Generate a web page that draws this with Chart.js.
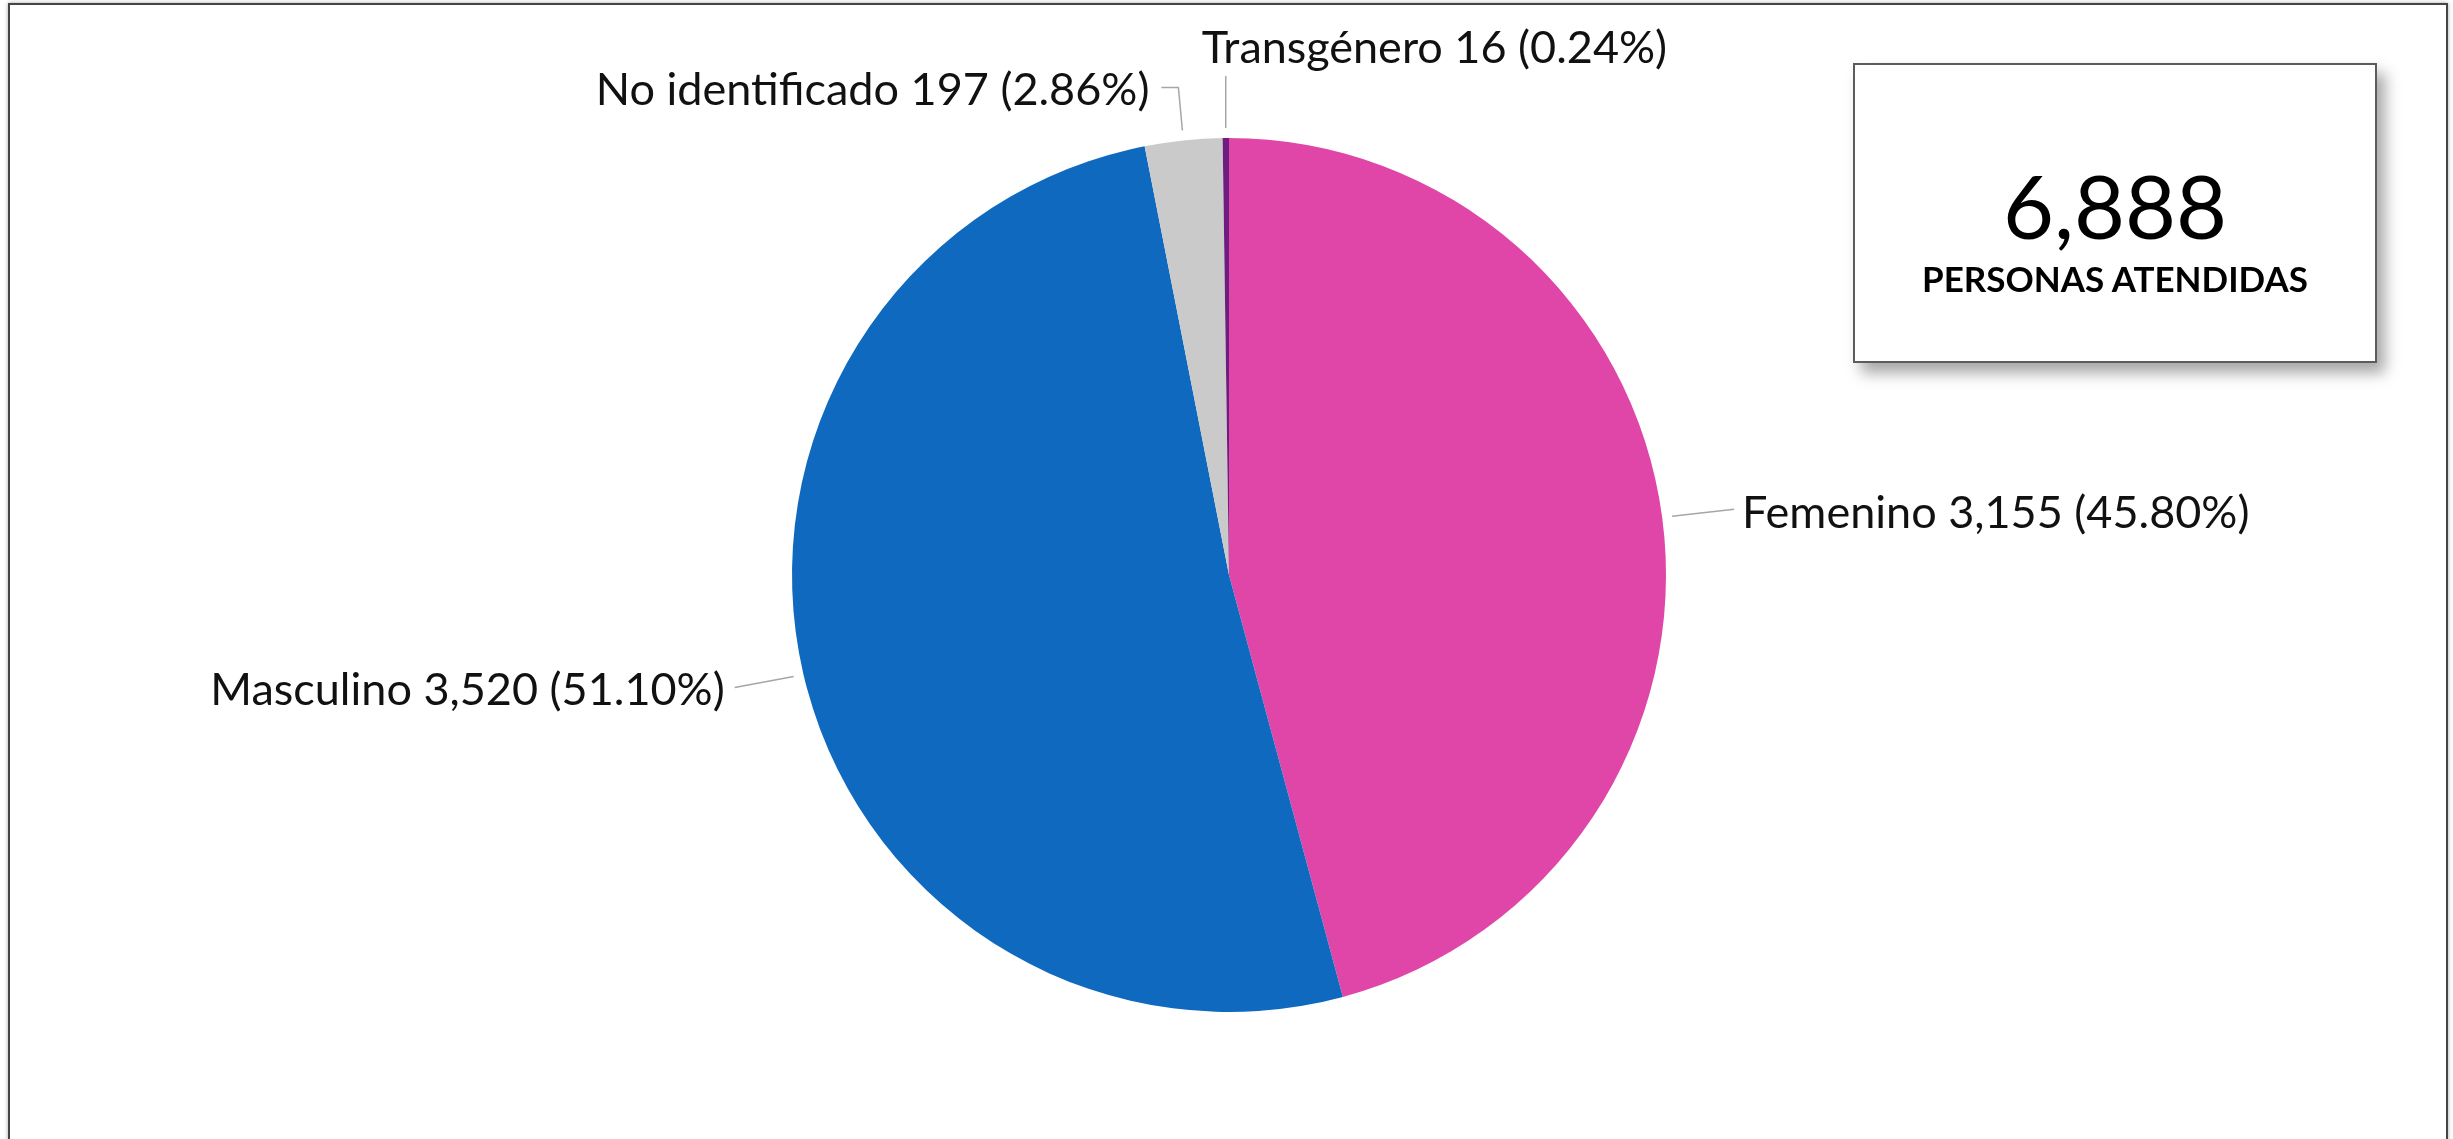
<!DOCTYPE html>
<html>
<head>
<meta charset="utf-8">
<script src="https://cdn.jsdelivr.net/npm/chart.js@4.4.1/dist/chart.umd.min.js"></script>
<style>
    html, body { margin: 0; padding: 0; background: #fff; overflow: hidden; }
    #wrap { position: relative; width: 2453px; height: 1139px; }
    #frame {
        position: absolute; left: 8px; top: 3px; width: 2436px; height: 1200px;
        border: 2px solid #454545; box-shadow: 0 0 4px rgba(0,0,0,0.35);
    }
    #chart { position: absolute; left: 0; top: 0; }
    #total {
        position: absolute; left: 1853px; top: 63px; width: 520px; height: 296px;
        border: 2px solid #5c5c5c; background: #fff;
        box-shadow: 8px 10px 14px rgba(0,0,0,0.35);
        font-family: Lato, sans-serif; color: #000;
    }
    #total .num { position: absolute; left: 0; right: 0; top: 96px; text-align: center; font-size: 88px; line-height: 1; }
    #total .cap { position: absolute; left: 0; right: 0; top: 196px; text-align: center; font-size: 35px; font-weight: bold; line-height: 1; }
</style>
</head>
<body>
<div id="wrap">
    <div id="frame"></div>
    <canvas id="chart" width="2453" height="1139"></canvas>
    <div id="total">
        <div class="num">6,888</div>
        <div class="cap">PERSONAS ATENDIDAS</div>
    </div>
</div>
<script>
const categories = ['Femenino', 'Masculino', 'No identificado', 'Transgénero'];
const counts = [3155, 3520, 197, 16];
const percents = ['45.80', '51.10', '2.86', '0.24'];
const sliceColors = ['#E046A8', '#0F6ABF', '#CACACA', '#6E1C80'];

// leader line bends, relative to the point just outside each slice
const leaders = [
    { bends: [[62, -7]], align: 'left', tx: 8, ty: 19 },
    { bends: [[-59, 11]], align: 'right', tx: -10, ty: 18 },
    { bends: [[-4, -43], [-21, -43]], align: 'right', tx: -12, ty: 18 },
    { bends: [[0, -52]], align: 'left', tx: -24, ty: -13 }
];

const outsideLabels = {
    id: 'outsideLabels',
    afterDraw(chart) {
        const ctx = chart.ctx;
        const meta = chart.getDatasetMeta(0);
        ctx.save();
        ctx.font = '45px Lato';
        ctx.fillStyle = '#111';
        ctx.strokeStyle = '#a6a6a6';
        ctx.lineWidth = 1.5;
        meta.data.forEach((arc, i) => {
            const mid = (arc.startAngle + arc.endAngle) / 2;
            const r = arc.outerRadius + 10;
            const ax = arc.x + r * Math.cos(mid);
            const ay = arc.y + r * Math.sin(mid);
            const cfg = leaders[i];
            ctx.beginPath();
            ctx.moveTo(ax, ay);
            let ex = ax, ey = ay;
            cfg.bends.forEach(b => {
                ex = ax + b[0];
                ey = ay + b[1];
                ctx.lineTo(ex, ey);
            });
            ctx.stroke();
            const text = categories[i] + ' ' + counts[i].toLocaleString('en-US') + ' (' + percents[i] + '%)';
            ctx.textAlign = cfg.align;
            ctx.textBaseline = 'alphabetic';
            ctx.fillText(text, ex + cfg.tx, ey + cfg.ty);
        });
        ctx.restore();
    }
};

const ctx = document.getElementById('chart').getContext('2d');
new Chart(ctx, {
    type: 'pie',
    data: {
        labels: categories,
        datasets: [{
            data: counts,
            backgroundColor: sliceColors,
            borderWidth: 0
        }]
    },
    options: {
        responsive: false,
        animation: false,
        layout: { padding: { left: 5, right: 0, top: 138, bottom: 127 } },
        plugins: {
            legend: { display: false },
            tooltip: { enabled: false }
        }
    },
    plugins: [outsideLabels]
});
</script>
</body>
</html>
